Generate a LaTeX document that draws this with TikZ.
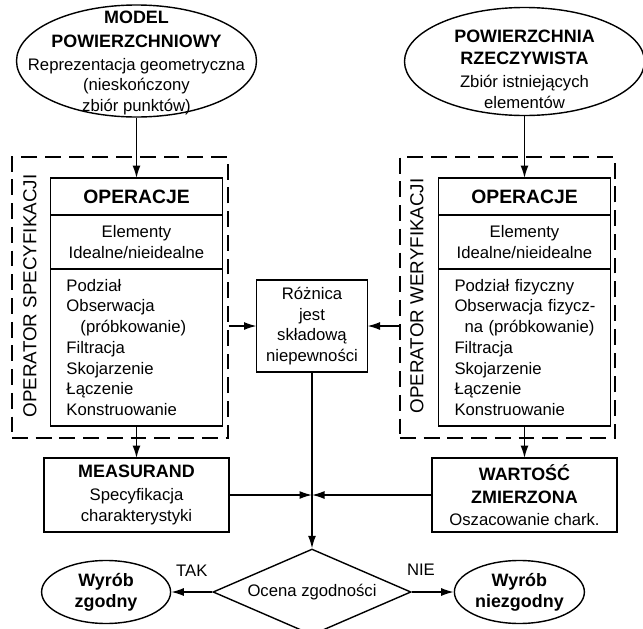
\documentclass[tikz,border=0pt]{standalone}
\usepackage{fontspec}
\setmainfont{Liberation Sans}
\usepackage{tikz}
\usetikzlibrary{positioning, shapes.geometric, arrows.meta}

\newcommand{\hdtxt}[1]{{\fontsize{10.2}{12}\selectfont\bfseries #1}}

\begin{document}
\begin{tikzpicture}[>={Latex[length=2.5mm, width=1.6mm]}, node distance=0.64cm,
    font=\fontsize{9.5}{11.8}\selectfont,
    oval/.style={draw, ellipse, line width=0.8pt, inner sep=0pt},
    opbox/.style={draw, rectangle, line width=0.8pt, inner sep=0pt, outer sep=0pt, align=center},
    listbox/.style={opbox, align=left, text width=2.80cm, inner xsep=0.32cm, minimum height=3.14cm},
    dashframe/.style={draw, dash pattern=on 9pt off 4.5pt, line width=1pt, minimum height=5.62cm},
    decision/.style={draw, diamond, line width=0.8pt, inner sep=0pt, shape aspect=2.3, minimum width=3.96cm, minimum height=1.72cm},
    flow/.style={line width=0.8pt}]
    \useasboundingbox (0,0) rectangle (12.86,-12.58);
    % dashed operator frames
    \node[dashframe, minimum width=4.32cm] (frL) at (2.40,-5.95) {};
    \node[dashframe, minimum width=4.30cm] (frR) at (10.15,-5.95) {};
    \node[rotate=90, font=\fontsize{10.7}{12}\selectfont] (lblL) at (0.60,-5.92) {OPERATOR SPECYFIKACJI};
    \node[rotate=90, font=\fontsize{10.7}{12}\selectfont] (lblR) at (8.34,-5.92) {OPERATOR WERYFIKACJI};
    % top ellipses
    \node[oval, minimum width=4.8cm, minimum height=2.24cm] (modL) at (2.73,-1.22) {};
    \node[align=center, yshift=-0.04cm] (modLtxt) at (modL) {\hdtxt{MODEL}\\[1.8pt] \hdtxt{POWIERZCHNIOWY}\\[1.2pt] Reprezentacja geometryczna\\ (nieskończony\\ zbiór punktów)};
    \node[oval, minimum width=4.8cm, minimum height=2.16cm] (powR) at (10.49,-1.23) {};
    \node[align=center, yshift=-0.16cm] (powRtxt) at (powR) {\hdtxt{POWIERZCHNIA}\\[0.7pt] \hdtxt{RZECZYWISTA}\\[1.2pt] Zbiór istniejących\\ elementów};
    % operation boxes
    \node[opbox, minimum width=3.44cm, minimum height=0.74cm, anchor=north, font=\fontsize{11}{13}\selectfont\bfseries] (opL) at (2.73,-3.56) {OPERACJE};
    \node[opbox, minimum width=3.44cm, minimum height=1.08cm, below=0pt of opL] (elemL) {Elementy\\Idealne/nieidealne};
    \node[listbox, below=0pt of elemL] (listL) {Podział\\Obserwacja\\\hspace*{0.28cm}(próbkowanie)\\Filtracja\\Skojarzenie\\Łączenie\\Konstruowanie};
    \node[opbox, minimum width=3.44cm, minimum height=0.74cm, anchor=north, font=\fontsize{11}{13}\selectfont\bfseries] (opR) at (10.49,-3.56) {OPERACJE};
    \node[opbox, minimum width=3.44cm, minimum height=1.08cm, below=0pt of opR] (elemR) {Elementy\\Idealne/nieidealne};
    \node[listbox, below=0pt of elemR] (listR) {\mbox{Podział fizyczny}\\\mbox{Obserwacja fizycz-}\\\mbox{\hspace*{0.2cm}na (próbkowanie)}\\Filtracja\\Skojarzenie\\Łączenie\\Konstruowanie};
    % middle and results
    \node[opbox, minimum width=2.22cm, minimum height=1.84cm] (roz) at (6.24,-6.52) {Różnica\\jest\\składową\\niepewności};
    \node[opbox, minimum width=3.70cm, minimum height=1.48cm, below=of listL] (meas) {\hdtxt{MEASURAND}\\[1.2pt] Specyfikacja\\charakterystyki};
    \node[opbox, minimum width=3.70cm, minimum height=1.48cm, below=of listR] (wart) {\hdtxt{WARTOŚĆ}\\[1.2pt] \hdtxt{ZMIERZONA}\\[0.6pt] Oszacowanie chark.};
    \coordinate (join) at (roz |- meas);
    % decision
    \node[decision] (ocena) at (6.24,-11.84) {Ocena zgodności};
    \node[oval, align=center, minimum width=2.58cm, minimum height=1.26cm, left=0.82cm of ocena] (zg) {\hdtxt{Wyrób}\\\hdtxt{zgodny}};
    \node[oval, align=center, minimum width=2.60cm, minimum height=1.26cm, right=0.84cm of ocena] (nzg) {\hdtxt{Wyrób}\\\hdtxt{niezgodny}};
    \draw[flow, ->] (modL) -- (opL);
    \draw[flow, ->] (powR) -- (opR);
    \draw[flow, ->] (listL) -- (meas);
    \draw[flow, ->] (listR) -- (wart);
    \draw[flow, ->] (frL.east |- roz) -- (roz);
    \draw[flow, ->] (frR.west |- roz) -- (roz);
    \draw[flow, ->] (roz) -- (ocena);
    \draw[flow, ->] (meas) -- (join);
    \draw[flow, ->] (wart) -- (join);
    \draw[flow, ->] (ocena) -- node[midway, above=0.17cm] {TAK} (zg);
    \draw[flow, ->] (ocena) -- node[pos=0.22, above=0.2cm] {NIE} (nzg);
\end{tikzpicture}
\end{document}
